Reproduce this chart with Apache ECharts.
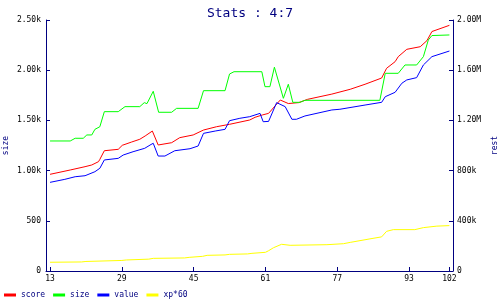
<!DOCTYPE html>
<html>
<head>
<meta charset="utf-8">
<script src="https://cdn.jsdelivr.net/npm/echarts@6/dist/echarts.min.js"></script>
<style>html,body{margin:0;padding:0;background:#fff}#c{width:500px;height:300px}</style>
</head>
<body>
<div id="c"></div>
<script>
var xTicks = [13, 29, 45, 61, 77, 93, 102];
var seriesNames = ['score', 'size', 'value', 'xp*60'];

var scoreX = [13, 17.5, 20.8, 22.3, 23.8, 24.1, 25.1, 28.2, 29.1, 31.2, 33, 34.2, 35.8, 36.1, 37.1, 40.1, 41.9, 44.9, 47.2, 50.1, 53, 57.5, 58.7, 60.3, 61.7, 64.3, 66.1, 68.4, 70.4, 75.8, 79.9, 83.2, 86.9, 88, 89.9, 90.6, 92.5, 95.5, 97, 98.1, 102];
var scoreY = [963, 1006, 1039, 1056, 1089, 1112, 1198, 1212, 1252, 1285, 1312, 1345, 1394, 1388, 1255, 1278, 1328, 1355, 1404, 1437, 1461, 1504, 1531, 1554, 1570, 1703, 1668, 1677, 1710, 1762, 1810, 1860, 1922, 2019, 2085, 2135, 2208, 2234, 2295, 2385, 2447];

var sizeX = [13, 17.5, 18.6, 20.4, 21.2, 22.3, 23, 24.1, 25.1, 28.2, 29.7, 33, 34, 34.6, 36, 37.2, 40.1, 41.2, 46, 47.2, 52, 53, 54, 60.2, 60.9, 62, 63, 65, 66.1, 67.1, 68.7, 69.8, 86.5, 87.7, 90.6, 92.1, 94.7, 96.2, 97.3, 98.1, 102];
var sizeY = [1295, 1295, 1322, 1322, 1355, 1355, 1411, 1437, 1587, 1587, 1637, 1637, 1677, 1667, 1790, 1581, 1581, 1620, 1620, 1796, 1796, 1962, 1985, 1985, 1836, 1836, 2030, 1720, 1860, 1680, 1680, 1700, 1700, 1969, 1969, 2052, 2052, 2135, 2301, 2345, 2351];

var valueX = [13, 16.3, 18.6, 20.8, 23, 24.1, 25.1, 28.2, 29.3, 31.5, 34.1, 35.5, 36, 37.1, 38.6, 40.8, 44.2, 46, 47.2, 49.8, 52, 53, 55.3, 57.5, 59.8, 60.5, 61.7, 63.5, 65.4, 66.9, 67.9, 69.8, 75.8, 77.6, 83.2, 86.9, 87.7, 89.9, 91.4, 92.5, 94.7, 96.2, 98.1, 102];
var valueY = [883, 913, 939, 949, 989, 1023, 1106, 1122, 1155, 1188, 1222, 1260, 1272, 1145, 1145, 1198, 1218, 1245, 1371, 1394, 1411, 1497, 1521, 1537, 1570, 1487, 1490, 1677, 1637, 1511, 1511, 1544, 1604, 1611, 1653, 1680, 1736, 1780, 1870, 1903, 1926, 2052, 2135, 2191];

var xpX = [13, 20, 21, 29, 30, 35, 36, 43, 44, 47, 48, 52, 53, 57, 58, 61, 61.7, 62.8, 64.6, 66.5, 74.7, 78.4, 79.9, 84.3, 86.9, 88, 89.5, 94.3, 96.2, 99.2, 102];
var xpY = [87, 90, 95, 105, 110, 118, 126, 130, 136, 146, 156, 160, 166, 170, 176, 186, 202, 232, 266, 256, 262, 272, 285, 320, 340, 395, 412, 412, 432, 447, 452];

function zip(xs, ys) { return xs.map(function (x, i) { return [x, ys[i]]; }); }

var NAVY = '#000080';
var MONO = '"DejaVu Sans Mono", "Liberation Mono", monospace';
var colors = ['#ff0000', '#00ff00', '#0000ff', '#ffff00'];
var datasets = [zip(scoreX, scoreY), zip(sizeX, sizeY), zip(valueX, valueY), zip(xpX, xpY)];

var chart = echarts.init(document.getElementById('c'), null, { renderer: 'canvas' });
chart.setOption({
  animation: false,
  backgroundColor: '#ffffff',
  title: {
    text: 'Stats : 4:7', left: 'center', top: 2,
    textStyle: { fontFamily: MONO, fontSize: 13, fontWeight: 'normal', color: NAVY }
  },
  legend: {
    left: 4, top: 291, padding: 0, itemWidth: 12, itemHeight: 3, itemGap: 8, icon: 'rect',
    data: seriesNames,
    textStyle: { fontFamily: MONO, fontSize: 8, color: NAVY, width: 24 }
  },
  grid: { left: 46, right: 47, top: 20, bottom: 29, containLabel: false, outerBoundsMode: 'none' },
  xAxis: {
    type: 'value', min: 12.1, max: 102.8,
    axisLine: { lineStyle: { color: NAVY, width: 1 } },
    axisTick: { show: true, inside: true, length: 4, customValues: xTicks, lineStyle: { color: NAVY } },
    axisLabel: { customValues: xTicks, fontFamily: MONO, fontSize: 8, color: '#000', margin: 4 },
    splitLine: { show: false }
  },
  yAxis: [{
    type: 'value', min: 0, max: 2500, interval: 500, position: 'left',
    name: 'size', nameLocation: 'middle', nameRotate: 90, nameGap: 36, nameMoveOverlap: false,
    nameTextStyle: { fontFamily: MONO, fontSize: 8, color: NAVY },
    axisLine: { show: true, lineStyle: { color: NAVY, width: 1 } },
    axisTick: { show: true, inside: true, length: 4, lineStyle: { color: NAVY } },
    axisLabel: {
      fontFamily: MONO, fontSize: 8, color: '#000', margin: 5,
      formatter: function (v) { return v >= 1000 ? (v / 1000).toFixed(2) + 'k' : String(v); }
    },
    splitLine: { show: false }
  }, {
    type: 'value', min: 0, max: 2000000, interval: 400000, position: 'right',
    name: 'rest', nameLocation: 'middle', nameRotate: 90, nameGap: 38, nameMoveOverlap: false,
    nameTextStyle: { fontFamily: MONO, fontSize: 8, color: NAVY },
    axisLine: { show: true, lineStyle: { color: NAVY, width: 1 } },
    axisTick: { show: true, inside: true, length: 4, lineStyle: { color: NAVY } },
    axisLabel: {
      fontFamily: MONO, fontSize: 8, color: '#000', margin: 4,
      formatter: function (v) {
        if (v === 0) return '0';
        if (v < 1000000) return (v / 1000) + 'k';
        return (v / 1000000).toFixed(2) + 'M';
      }
    },
    splitLine: { show: false }
  }],
  series: seriesNames.map(function (n, i) {
    return {
      name: n, type: 'line', yAxisIndex: 0, data: datasets[i],
      showSymbol: false, symbol: 'none',
      lineStyle: { color: colors[i], width: 1 },
      itemStyle: { color: colors[i] }
    };
  })
});
</script>
</body>
</html>
